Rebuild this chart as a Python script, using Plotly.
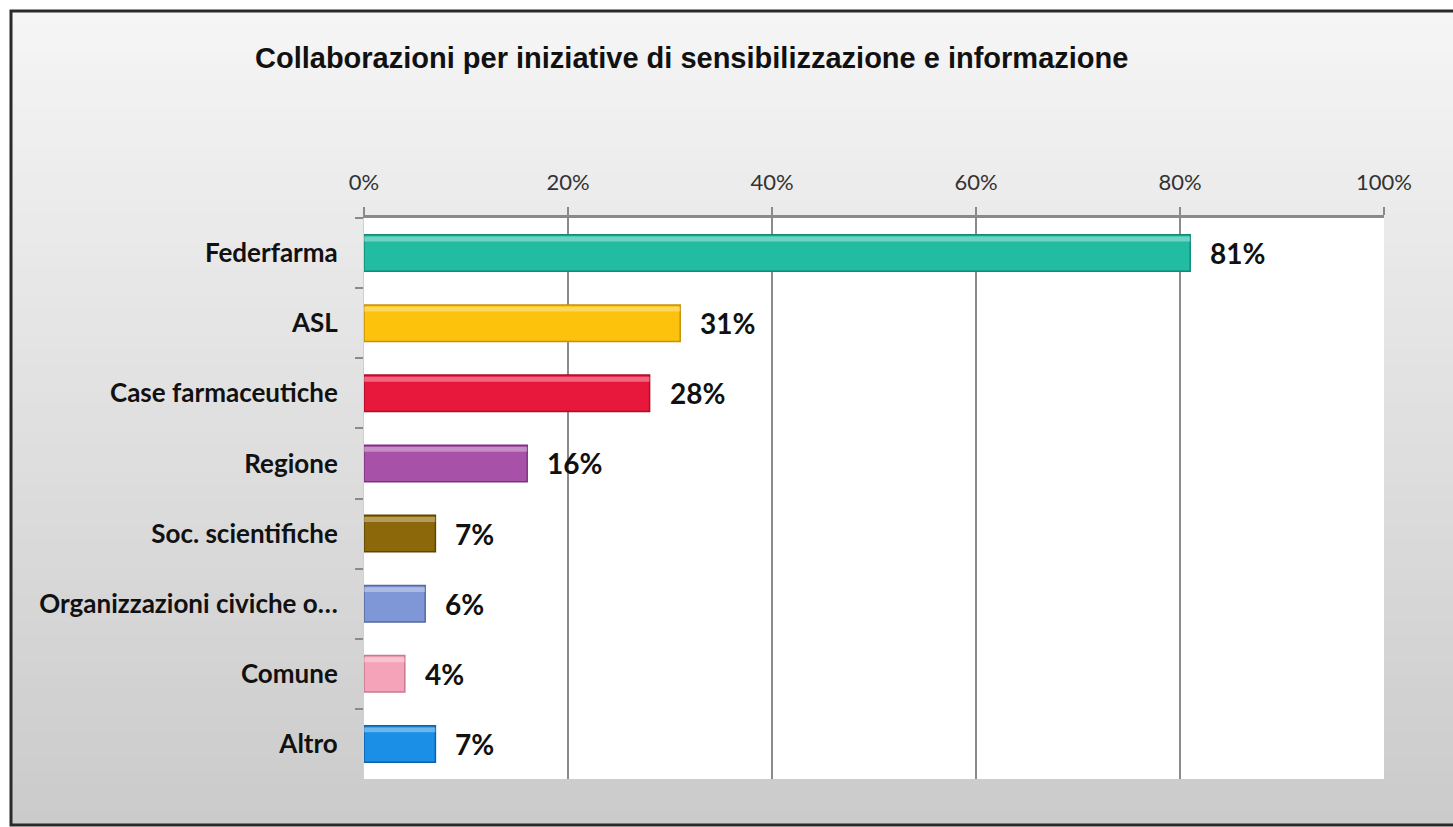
import plotly.graph_objects as go

# data
categories = ["Federfarma", "ASL", "Case farmaceutiche", "Regione",
              "Soc. scientifiche", "Organizzazioni civiche o…", "Comune", "Altro"]
values = [81, 31, 28, 16, 7, 6, 4, 7]
bar_colors = ["#22bca3", "#fcc20c", "#e8183c", "#a851a8",
              "#8c680a", "#7f97d6", "#f5a3b9", "#1b8fe6"]
edge_colors = ["#138a76", "#c8900a", "#a80f28", "#7a357a",
               "#5e4505", "#56699e", "#c77a8f", "#0f62a8"]
x_ticks = [0, 20, 40, 60, 80, 100]
title = "Collaborazioni per iniziative di sensibilizzazione e informazione"

W, H = 1453, 827
L, R, T, B = 364, 69, 218, 48
pw, ph = W - L - R, H - T - B


def px_x(px):
    return (px - L) / pw


def px_y(py):
    return (H - B - py) / ph


fig = go.Figure()

fig.add_trace(go.Bar(
    y=categories,
    x=values,
    orientation="h",
    marker=dict(color=bar_colors, line=dict(color=edge_colors, width=1.5)),
    width=0.52,
    offset=-0.26,
    hoverinfo="skip",
))
# glossy highlight along the top of each bar
fig.add_trace(go.Bar(
    y=categories,
    x=values,
    orientation="h",
    marker=dict(color="rgba(255,255,255,0.35)", line=dict(width=0)),
    width=0.07,
    offset=-0.235,
    hoverinfo="skip",
))

# value labels to the right of the bars
for cat, v in zip(categories, values):
    fig.add_annotation(
        x=v, y=cat, text=f"<b>{v}%</b>", showarrow=False,
        xanchor="left", xshift=18,
        font=dict(family="Lato, 'Open Sans', sans-serif", size=28, color="#111111"),
    )

# background: framed panel with a vertical grey gradient
shapes = []
top_px, bot_px = 11, 825
n = 60
step = (bot_px - top_px) / n
for i in range(n):
    y0 = top_px + step * i
    y1 = y0 + step + 1.5
    t = i / (n - 1)
    g = int(round(245 - (245 - 203) * t))
    shapes.append(dict(
        type="rect", xref="paper", yref="paper", layer="below",
        x0=px_x(10), x1=px_x(1470), y0=px_y(min(y1, bot_px)), y1=px_y(y0),
        fillcolor=f"rgb({g},{g},{g})", line=dict(width=0),
    ))
shapes.append(dict(
    type="rect", xref="paper", yref="paper", layer="below",
    x0=px_x(11), x1=px_x(1470), y0=px_y(bot_px), y1=px_y(top_px),
    fillcolor="rgba(0,0,0,0)", line=dict(color="#2a2a2a", width=3),
))
# white plotting area
shapes.append(dict(
    type="rect", xref="paper", yref="paper", layer="below",
    x0=0, x1=1, y0=0, y1=1, fillcolor="white", line=dict(width=0),
))

fig.add_annotation(
    x=px_x(691), y=px_y(58), xref="paper", yref="paper",
    text=f"<b>{title}</b>", showarrow=False,
    xanchor="center", yanchor="middle",
    font=dict(family="'Liberation Sans', Arial, sans-serif", size=29, color="#111111"),
)

fig.update_layout(
    width=W, height=H,
    margin=dict(l=L, r=R, t=T, b=B, pad=0),
    paper_bgcolor="white",
    plot_bgcolor="rgba(0,0,0,0)",
    showlegend=False,
    barmode="overlay",
    shapes=shapes,
    xaxis=dict(
        side="top", range=[0, 100], tickvals=x_ticks,
        ticktext=[f"{v}%" for v in x_ticks],
        showgrid=True, gridcolor="#8a8a8a", gridwidth=2,
        showline=True, linecolor="#8a8a8a", linewidth=3,
        ticks="outside", ticklen=8, tickcolor="#8a8a8a", tickwidth=2,
        ticklabelstandoff=8,
        tickfont=dict(family="Lato, 'Open Sans', sans-serif", size=22, color="#333333"),
        zeroline=False, fixedrange=True,
    ),
    yaxis=dict(
        type="category", autorange="reversed",
        tickson="boundaries",
        ticks="outside", ticklen=8, tickcolor="#8a8a8a", tickwidth=2,
        showline=True, linecolor="#d0d0d0", linewidth=1,
        showgrid=False, ticklabelstandoff=20,
        tickfont=dict(family="Lato, 'Open Sans', sans-serif", size=26, color="#111111"),
        tickprefix="<b>", ticksuffix="</b>", fixedrange=True,
    ),
)

fig.write_html("out.html", config={"displayModeBar": False},
               post_script="document.body.style.margin='0';")
